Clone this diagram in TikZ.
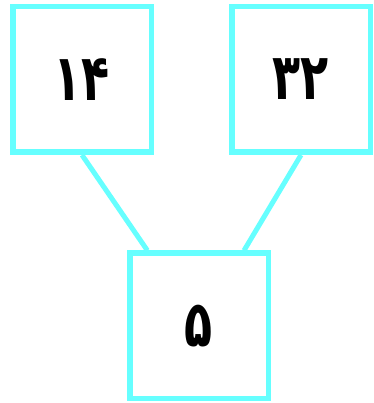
\documentclass[tikz,border=0pt]{standalone}
\usepackage{fontspec}
\usetikzlibrary{positioning}
\newfontfamily\arabicfont[Script=Arabic]{DejaVu Sans}
\definecolor{Edge}{HTML}{66FFFF}
\newcommand{\TallNum}[1]{\scalebox{1}[1.4]{#1}}
\tikzset{
  numbox/.style={draw=Edge,line width=5.5pt,fill=white,minimum width=138.5pt,
    minimum height=145.5pt,inner sep=0pt,font=\arabicfont\bfseries\fontsize{46}{54}\selectfont},
  link/.style={draw=Edge,line width=5pt}
}

\begin{document}
\begin{tikzpicture}[x=1pt,y=1pt]
\useasboundingbox (0,0) rectangle (373,403);
\node[numbox] (n14) at (82,323.5) {\TallNum{۱۴}};
\node[numbox] (n32) at (301,323.5) {\TallNum{۳۲}};
\node[numbox] (n5) at (199,77) {\TallNum{۵}};
\draw[link] (n14.south) -- (n5);
\draw[link] (n32.south) -- (n5);
\end{tikzpicture}
\end{document}
